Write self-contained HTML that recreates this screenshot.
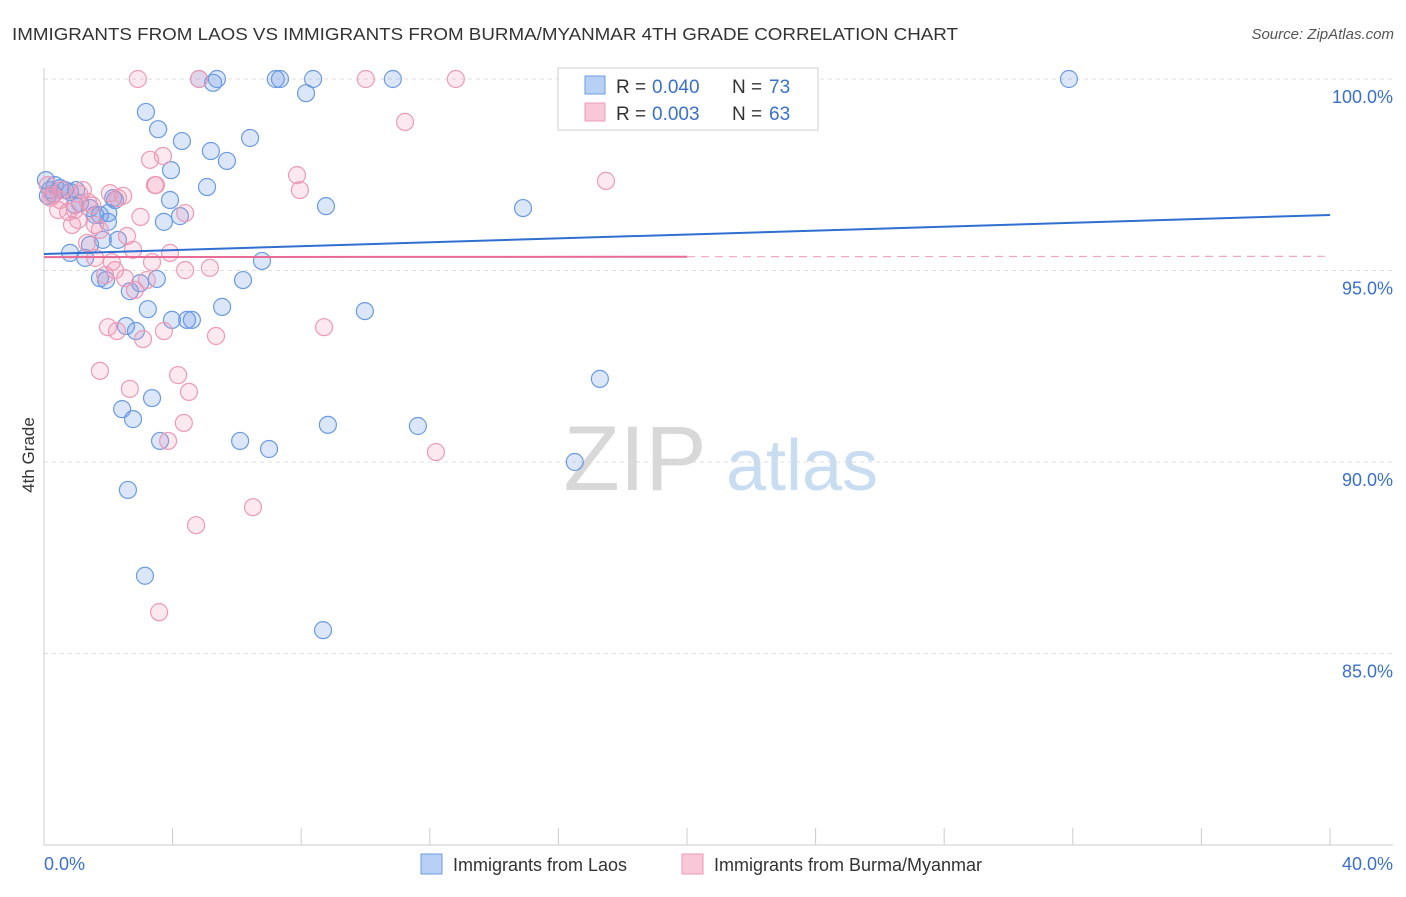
<!DOCTYPE html>
<html><head><meta charset="utf-8"><style>
body{margin:0;background:#fff;font-family:"Liberation Sans",sans-serif}
svg text{font-family:"Liberation Sans",sans-serif}
</style></head><body>
<svg id="chart" width="1406" height="892" xmlns="http://www.w3.org/2000/svg">
<text x="12" y="40" font-size="17.5" fill="#333" textLength="946" lengthAdjust="spacingAndGlyphs">IMMIGRANTS FROM LAOS VS IMMIGRANTS FROM BURMA/MYANMAR 4TH GRADE CORRELATION CHART</text>
<text x="1394" y="39" font-size="15" fill="#555" font-style="italic" text-anchor="end">Source: ZipAtlas.com</text>
<text x="34" y="455" font-size="17" fill="#333" text-anchor="middle" transform="rotate(-90 34 455)">4th Grade</text>
<g><text x="635" y="490" font-size="92" fill="#d8d8d8" font-family="Liberation Serif" text-anchor="middle">ZIP</text><text x="802" y="490" font-size="72" fill="#c8dcf2" text-anchor="middle">atlas</text></g>
<g id="grid"></g><g id="axes"></g><g id="pts"></g><g id="trend"></g>
<g>
<rect x="558" y="68" width="260" height="62" fill="#fff" stroke="#ccc"/>
<rect x="585" y="76" width="20" height="18" fill="#b8d0f5" stroke="#6a9be0"/>
<rect x="585" y="103" width="20" height="18" fill="#f8c8d8" stroke="#ec9ab5"/>
<text x="616" y="93" font-size="19" fill="#333">R =</text><text x="652" y="93" font-size="19" fill="#3a70cc">0.040</text>
<text x="732" y="93" font-size="19" fill="#333">N =</text><text x="769" y="93" font-size="19" fill="#3a70cc">73</text>
<text x="616" y="120" font-size="19" fill="#333">R =</text><text x="652" y="120" font-size="19" fill="#3a70cc">0.003</text>
<text x="732" y="120" font-size="19" fill="#333">N =</text><text x="769" y="120" font-size="19" fill="#3a70cc">63</text>
</g>
<g>
<rect x="421" y="854" width="21" height="20" fill="#b8d0f5" stroke="#6a9be0"/>
<text x="453" y="871" font-size="18" fill="#333">Immigrants from Laos</text>
<rect x="682" y="854" width="21" height="20" fill="#f8c8d8" stroke="#ec9ab5"/>
<text x="714" y="871" font-size="18" fill="#333">Immigrants from Burma/Myanmar</text>
</g>
</svg>
<script>
const yTicks=[100,95,90,85];
const yTickLabels=["100.0%","95.0%","90.0%","85.0%"];
const xTickLabels=["0.0%","40.0%"];
const laosX=[0.06,0.19,0.34,0.5,0.65,0.81,0.12,0.96,1.12,1.43,1.59,1.74,1.99,0.81,1.28,1.43,1.83,2.3,1.74,1.93,2.15,2.21,2.67,2.99,3.51,3.23,2.55,2.86,3.98,4.45,4.6,5.54,6.19,6.78,3.17,3.55,4.29,5.19,5.69,6.41,3.95,5.07,3.92,3.73,4.23,8.77,14.9,4.82,5.26,5.38,7.21,7.34,8.37,8.15,10.85,31.88,9.98,17.29,2.43,3.36,2.77,3.61,6.1,7.0,8.83,11.63,16.51,2.61,3.14,8.68,0.3,1.0,2.0];
const laosY=[97.36,97.1,97.23,97.15,97.1,97.05,96.95,96.71,96.76,96.63,96.45,96.45,96.27,95.46,95.33,95.67,95.8,95.8,94.8,94.75,96.89,96.84,94.46,94.67,94.78,93.99,93.55,93.42,93.71,93.71,93.71,94.05,94.75,95.25,99.14,98.69,98.38,98.12,97.86,98.46,97.62,97.18,96.84,96.27,96.42,96.68,96.63,100,99.9,100,100,100,100,99.63,100,100,93.94,92.17,91.38,91.67,91.12,90.55,90.55,90.34,90.97,90.94,90.0,89.27,87.03,85.61,97.0,97.1,96.5];
const burmaX=[0.12,0.25,0.44,0.56,0.75,0.87,1.06,1.21,1.37,1.59,1.74,2.05,2.3,2.46,2.58,2.77,1.34,1.59,1.9,2.21,2.52,2.83,3.2,3.36,3.92,4.39,5.16,4.39,3.45,3.3,3.7,3.48,7.87,7.96,11.23,17.48,2.92,4.82,10.01,12.81,1.99,2.27,3.08,3.73,5.35,8.71,1.74,2.67,4.17,4.51,4.35,3.86,12.19,6.5,4.73,3.58,0.5,0.96,2.11,0.2,1.5,3.0,1.1];
const burmaY=[97.23,96.97,96.58,97.1,96.53,96.19,96.32,97.1,96.79,96.19,96.06,97.02,96.89,96.95,95.9,95.54,95.72,95.33,94.88,95.01,94.8,94.49,94.75,95.22,95.46,95.01,95.07,96.5,97.23,97.89,97.99,97.23,97.49,97.1,98.88,97.34,100,100,100,100,93.52,93.42,93.21,93.42,93.29,93.52,92.38,91.91,92.27,91.83,91.02,90.55,90.26,88.82,88.35,86.08,96.84,96.58,95.22,96.9,96.7,96.4,97.0];
const laosTrend=[95.43,96.45];
const burmaTrend=[95.35,95.37];
const NS="http://www.w3.org/2000/svg";
const X=v=>44+v/40*1286, Y=v=>79+(100-v)*38.3;
function mk(t,a,p){const e=document.createElementNS(NS,t);for(const k in a)e.setAttribute(k,a[k]);document.getElementById(p).appendChild(e);return e;}
yTicks.forEach((t,i)=>{
 const g=mk('line',{x1:44,x2:1393,y1:Y(t),y2:Y(t),stroke:'#ddd','stroke-dasharray':'4,4'},'grid');
 
 
 const l=mk('text',{x:1393,y:Y(t)+24,'font-size':18,fill:'#3a70cc','text-anchor':'end'},'axes');l.textContent=yTickLabels[i];
 
 
});
mk('line',{x1:44,x2:44,y1:68,y2:845,stroke:'#ccc'},'axes');
mk('line',{x1:44,x2:1393,y1:845,y2:845,stroke:'#ccc'},'axes');
for(let i=0;i<=10;i++){const t=mk('line',{x1:X(i*4),x2:X(i*4),y1:828,y2:845,stroke:'#ccc'},'axes');
 
 }
[[0,'start',44],[40,'end',1393]].forEach((d,i)=>{const l=mk('text',{x:d[2],y:870,'font-size':18,fill:'#3a70cc','text-anchor':d[1]},'axes');l.textContent=xTickLabels[i];
 
 });
laosX.forEach((x,i)=>{const c=mk('circle',{cx:X(x),cy:Y(laosY[i]),r:8.5,fill:'rgba(110,155,230,0.25)',stroke:'#6a9be0','stroke-width':1.2},'pts');
 
 });
burmaX.forEach((x,i)=>{const c=mk('circle',{cx:X(x),cy:Y(burmaY[i]),r:8.5,fill:'rgba(240,150,180,0.22)',stroke:'#ec9ab5','stroke-width':1.2},'pts');
 
 });
const lt=mk('line',{x1:X(0),y1:Y(laosTrend[0]),x2:X(40),y2:Y(laosTrend[1]),stroke:'#2f6fd0','stroke-width':2},'trend');


const bm=burmaTrend[0]+(burmaTrend[1]-burmaTrend[0])*0.5;
const bt=mk('line',{x1:X(0),y1:Y(burmaTrend[0]),x2:X(20),y2:Y(bm),stroke:'#e86a95','stroke-width':2},'trend');


const bd=mk('line',{x1:X(20),y1:Y(bm),x2:X(40),y2:Y(burmaTrend[1]),stroke:'#f0a8c0','stroke-width':1.2,'stroke-dasharray':'8,6'},'trend');


</script>
</body></html>
